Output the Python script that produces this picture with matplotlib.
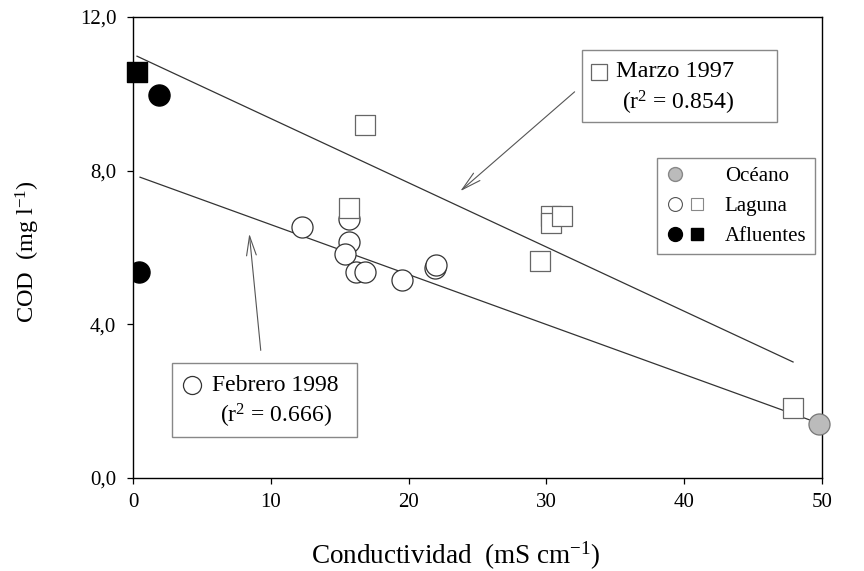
import matplotlib
matplotlib.use("Agg")
import matplotlib.pyplot as plt
from matplotlib.lines import Line2D
from matplotlib.legend_handler import HandlerTuple
from matplotlib.patches import Rectangle

plt.rcParams["font.family"] = ["Liberation Serif", "DejaVu Serif"]
plt.rcParams["mathtext.fontset"] = "custom"
plt.rcParams["mathtext.rm"] = "Liberation Serif"
plt.rcParams["mathtext.it"] = "Liberation Serif:italic"

# Laguna, Febrero 1998 (circulos)
feb_x = [12.3, 15.7, 15.7, 15.4, 16.2, 16.8, 19.5, 21.9, 22.0]
feb_y = [6.53, 6.74, 6.14, 5.83, 5.36, 5.36, 5.15, 5.46, 5.55]

# Laguna, Marzo 1997 (cuadrados)
mar_x = [15.7, 16.8, 30.3, 30.3, 31.1, 29.5, 47.9]
mar_y = [7.02, 9.19, 6.82, 6.64, 6.82, 5.65, 1.82]

# Oceano y afluentes
ocean_x = [49.8]
ocean_y = [1.41]
aflu_circ_x = [1.9, 0.4]
aflu_circ_y = [9.97, 5.36]
aflu_sq_x = [0.3]
aflu_sq_y = [10.57]

# Rectas de regresion
mar_fit_x = [0.29, 47.9]
mar_fit_y = [10.98, 3.02]
feb_fit_x = [0.51, 49.5]
feb_fit_y = [7.83, 1.46]

x_ticks = [0, 10, 20, 30, 40, 50]
y_ticks = [0, 4, 8, 12]
y_tick_labels = ["0,0", "4,0", "8,0", "12,0"]

fig = plt.figure(figsize=(8.64, 5.71), dpi=100)
ax = fig.add_axes([133 / 864, 1 - 478 / 571, 689 / 864, 461 / 571])

ax.plot(mar_fit_x, mar_fit_y, color="#333333", lw=0.9, zorder=2)
ax.plot(feb_fit_x, feb_fit_y, color="#333333", lw=0.9, zorder=2)

ax.scatter(feb_x, feb_y, s=230, marker="o", facecolor="white",
           edgecolor="#333333", linewidth=0.9, zorder=3)
ax.scatter(mar_x, mar_y, s=190, marker="s", facecolor="white",
           edgecolor="#666666", linewidth=0.9, zorder=4)
ax.scatter(ocean_x, ocean_y, s=230, marker="o", facecolor="#bbbbbb",
           edgecolor="#777777", linewidth=0.9, zorder=4, clip_on=False)
ax.scatter(aflu_circ_x, aflu_circ_y, s=230, marker="o", facecolor="black",
           edgecolor="black", zorder=4)
ax.scatter(aflu_sq_x, aflu_sq_y, s=200, marker="s", facecolor="black",
           edgecolor="black", zorder=4, clip_on=False)

ax.set_xlim(0, 50)
ax.set_ylim(0, 12)
ax.set_xticks(x_ticks)
ax.set_yticks(y_ticks)
ax.set_yticklabels(y_tick_labels)
ax.tick_params(direction="out", length=4, width=0.9, labelsize=15,
               top=False, right=False)
ax.tick_params(axis="x", pad=7)
ax.tick_params(axis="y", pad=8)
for sp in ax.spines.values():
    sp.set_linewidth(1.0)

ax.set_xlabel("Conductividad  (mS cm$^{-1}$)", fontsize=19.5)
ax.xaxis.set_label_coords(0.468, -0.135)
ax.set_ylabel("COD  (mg l$^{-1}$)", fontsize=17.5)
ax.yaxis.set_label_coords(-0.132, 0.491)

# Cajas de las regresiones
box_kw = dict(transform=ax.transAxes, facecolor="white", edgecolor="#888888",
              linewidth=1.0, zorder=5)
ax.add_patch(Rectangle((0.6517, 0.7722), 0.2830, 0.1562, **box_kw))
ax.plot([0.6763], [0.8807], marker="s", ms=12, mfc="white", mec="#666666",
        mew=0.9, transform=ax.transAxes, zorder=6)
ax.text(0.7010, 0.8807, "Marzo 1997", fontsize=17.5, va="center", ha="left",
        transform=ax.transAxes, zorder=6)
ax.text(0.7097, 0.8134, "(r$^2$ = 0.854)", fontsize=17, va="center",
        ha="left", transform=ax.transAxes, zorder=6)

ax.add_patch(Rectangle((0.0566, 0.0889), 0.2685, 0.1606, **box_kw))
ax.plot([0.0856], [0.2017], marker="o", ms=13, mfc="white", mec="#333333",
        mew=0.9, transform=ax.transAxes, zorder=6)
ax.text(0.1147, 0.2017, "Febrero 1998", fontsize=17, va="center", ha="left",
        transform=ax.transAxes, zorder=6)
ax.text(0.1263, 0.1345, "(r$^2$ = 0.666)", fontsize=17, va="center",
        ha="left", transform=ax.transAxes, zorder=6)

arrow_kw = dict(arrowstyle="->,head_length=1.4,head_width=0.35",
                color="#555555", lw=0.8)
ax.annotate("", xy=(23.6, 7.42), xytext=(32.2, 10.1), arrowprops=arrow_kw)
ax.annotate("", xy=(8.42, 6.43), xytext=(9.29, 3.25), arrowprops=arrow_kw)

# Leyenda de procedencia
h_ocean = (Line2D([], [], ls="none", marker="o", ms=10, mfc="#bbbbbb", mec="#888888"),
           Line2D([], [], ls="none", marker="s", ms=9, mfc="none", mec="none"))
h_lag = (Line2D([], [], ls="none", marker="o", ms=10, mfc="white", mec="#555555", mew=0.8),
         Line2D([], [], ls="none", marker="s", ms=9, mfc="white", mec="#888888", mew=0.8))
h_aflu = (Line2D([], [], ls="none", marker="o", ms=10, mfc="black", mec="black"),
          Line2D([], [], ls="none", marker="s", ms=9, mfc="black", mec="black"))
leg = ax.legend([h_ocean, h_lag, h_aflu], ["Océano", "Laguna", "Afluentes"],
                handler_map={tuple: HandlerTuple(ndivide=None, pad=0.15)},
                loc="upper left", bbox_to_anchor=(0.7605, 0.6941),
                borderaxespad=0, fontsize=15, frameon=True, fancybox=False,
                edgecolor="#888888", framealpha=1, handlelength=1.95,
                handletextpad=0.9, labelspacing=0.5, borderpad=0.4)
leg.get_frame().set_linewidth(1.0)
leg.set_zorder(6)

fig.savefig("out.png", dpi=100)
